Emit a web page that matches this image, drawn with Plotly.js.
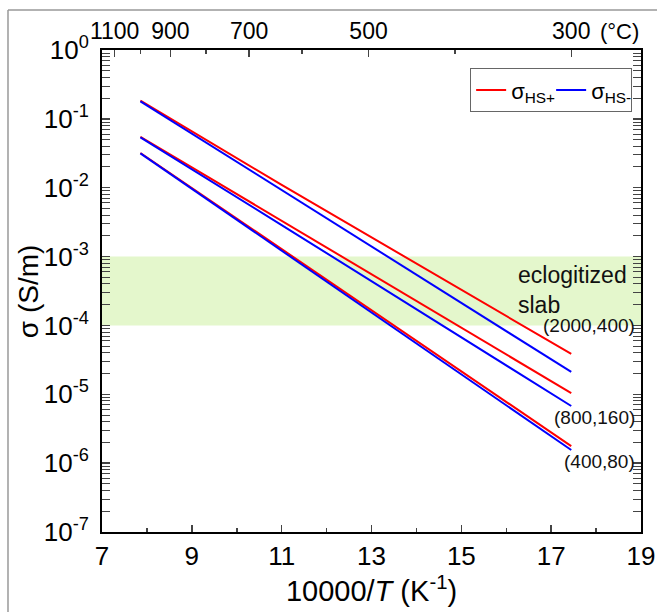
<!DOCTYPE html>
<html>
<head>
<meta charset="utf-8">
<script src="https://cdn.plot.ly/plotly-3.0.1.min.js"></script>
<style>
html,body{margin:0;padding:0;background:#fff;}
#chart{width:657px;height:612px;}
</style>
</head>
<body>
<div id="chart"></div>
<script>
// 10000/T (K^-1) positions where values were read
const invT = [7.855, 11.0, 17.447];
// (2000,400)
const hsPlus_2000 = [0.184, 0.0110, 3.85e-5];
const hsMinus_2000 = [0.180, 0.0093, 2.11e-5];
// (800,160)
const hsPlus_800 = [0.055, 0.00333, 1.04e-5];
const hsMinus_800 = [0.054, 0.00287, 6.76e-6];
// (400,80)
const hsPlus_400 = [0.0319, 0.00129, 1.77e-6];
const hsMinus_400 = [0.0315, 0.00123, 1.55e-6];

const topCelsius = [1100, 900, 700, 500, 300];
const topCelsiusMinor = [1000, 800, 600, 400];
const yTickExp = [0, -1, -2, -3, -4, -5, -6, -7];
const bandLow = 1e-4, bandHigh = 1e-3;

const RED = '#ff0000', BLUE = '#0000ff';
const FONT = 'Liberation Sans, Arial, sans-serif';

function tr(y, color, name, show) {
  return {x: invT, y: y, mode: 'lines', line: {color: color, width: 2},
          name: name, showlegend: show, hoverinfo: 'skip'};
}
const traces = [
  tr(hsPlus_2000, RED, 'σ<sub>HS+</sub>', true),
  tr(hsMinus_2000, BLUE, 'σ<sub>HS-</sub>', true),
  tr(hsPlus_800, RED, '', false),
  tr(hsMinus_800, BLUE, '', false),
  tr(hsPlus_400, RED, '', false),
  tr(hsMinus_400, BLUE, '', false),
  {x: [7, 19], y: [null, null], xaxis: 'x2', showlegend: false, hoverinfo: 'skip'}
];

const toInv = c => 10000 / (c + 273.15);
const yMinor = [];
for (let e = -7; e < 0; e++) for (let m = 2; m <= 9; m++) yMinor.push(m * Math.pow(10, e));

const layout = {
  width: 657, height: 612,
  margin: {l: 102, r: 16, t: 50, b: 80},
  paper_bgcolor: '#fff', plot_bgcolor: '#fff',
  font: {family: FONT, color: '#000', size: 20},
  showlegend: true,
  legend: {x: 0.683, y: 0.962, xanchor: 'left', yanchor: 'top', orientation: 'h',
           bordercolor: '#666', borderwidth: 1, bgcolor: '#fff',
           font: {size: 22, family: FONT}, itemwidth: 30, entrywidth: 35,
           entrywidthmode: 'pixels', tracegroupgap: 0},
  xaxis: {range: [7, 19], tickvals: [7, 9, 11, 13, 15, 17, 19], ticks: 'inside', ticklen: 7,
          tickwidth: 1.5, showline: true, linewidth: 2, linecolor: '#000', showgrid: false,
          zeroline: false, tickfont: {size: 26},
          minor: {tickvals: [8, 10, 12, 14, 16, 18], ticks: 'inside', ticklen: 4, tickwidth: 1.5},
          title: {text: '10000/<i>T</i> (K<sup>-1</sup>)', font: {size: 29}, standoff: 2}},
  xaxis2: {range: [7, 19], overlaying: 'x', side: 'top', anchor: 'y',
           tickvals: topCelsius.map(toInv), ticktext: topCelsius.map(String),
           ticks: 'inside', ticklen: 7, tickwidth: 1.5, showline: true, linewidth: 2,
           linecolor: '#000', showgrid: false, zeroline: false, tickfont: {size: 23},
           minor: {tickvals: topCelsiusMinor.map(toInv), ticks: 'inside', ticklen: 4, tickwidth: 1.5}},
  yaxis: {type: 'log', range: [-7, 0], tickvals: yTickExp.map(e => Math.pow(10, e)),
          ticktext: yTickExp.map(e => '10<sup>' + e + '</sup>'),
          ticks: 'inside', ticklen: 8, tickwidth: 1.5, showline: true, linewidth: 2,
          linecolor: '#000', mirror: 'allticks', showgrid: false, zeroline: false,
          tickfont: {size: 26}, ticklabelstandoff: 6,
          minor: {tickvals: yMinor, ticks: 'inside', ticklen: 4, tickwidth: 1}},
  shapes: [
    {type: 'rect', xref: 'paper', yref: 'y', x0: 0, x1: 1, y0: bandLow, y1: bandHigh,
     fillcolor: '#e4f7cc', line: {width: 0}, layer: 'below'},
    {type: 'line', xref: 'paper', yref: 'paper', x0: -0.1744, x1: -0.1744, y0: -0.2, y1: 1.083,
     line: {color: '#999', width: 1.5}},
    {type: 'line', xref: 'paper', yref: 'paper', x0: -0.1744, x1: 1.1, y0: 1.083, y1: 1.083,
     line: {color: '#999', width: 1.5}}
  ],
  annotations: [
    {xref: 'paper', yref: 'paper', x: -0.137, y: 0.5, text: 'σ (S/m)', showarrow: false,
     textangle: -90, xanchor: 'center', yanchor: 'middle', font: {size: 28, color: '#000'}},
    {xref: 'x', yref: 'y', x: 16.22, y: -3.49, text: 'eclogitized<br>slab', showarrow: false,
     xanchor: 'left', yanchor: 'middle', align: 'left', font: {size: 23, color: '#111'}},
    {xref: 'x', yref: 'y', x: 18.92, y: -4.0, text: '(2000,400)', showarrow: false,
     xanchor: 'right', yanchor: 'middle', font: {size: 19, color: '#111'}},
    {xref: 'x', yref: 'y', x: 18.92, y: -5.34, text: '(800,160)', showarrow: false,
     xanchor: 'right', yanchor: 'middle', font: {size: 19, color: '#111'}},
    {xref: 'x', yref: 'y', x: 18.92, y: -5.98, text: '(400,80)', showarrow: false,
     xanchor: 'right', yanchor: 'middle', font: {size: 19, color: '#111'}},
    {xref: 'paper', yref: 'paper', x: 1.0, y: 1.0, yshift: 4, text: '(°C)', showarrow: false,
     xanchor: 'right', yanchor: 'bottom', font: {size: 22, color: '#000'}}
  ]
};

Plotly.newPlot('chart', traces, layout, {staticPlot: true, displayModeBar: false});
</script>
</body>
</html>
